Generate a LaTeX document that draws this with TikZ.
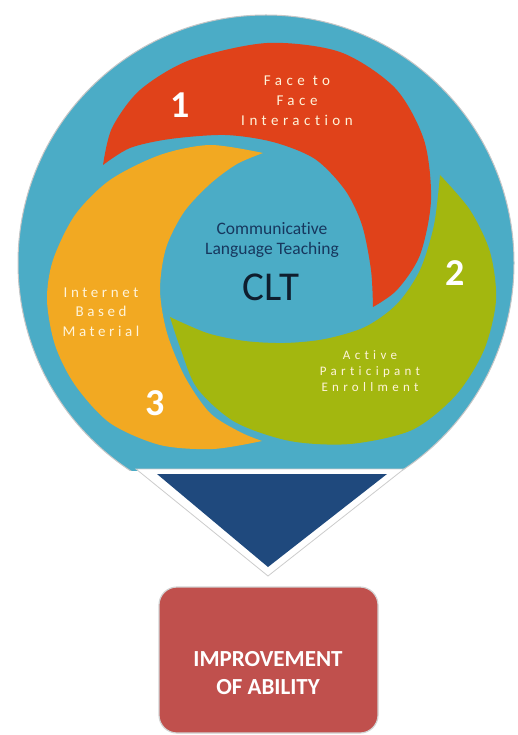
\documentclass[tikz,border=0pt]{standalone}
\usepackage{fontspec}
\setmainfont{Carlito}[Ligatures=NoCommon]
\newfontfamily\spaced{Carlito}[LetterSpace=30,Ligatures=NoCommon]
\newfontfamily\spacedb{Carlito}[LetterSpace=24,Ligatures=NoCommon]
\newfontfamily\spacedc{Carlito}[LetterSpace=33,Ligatures=NoCommon]
\definecolor{cblue}{HTML}{4BACC6}
\definecolor{cred}{HTML}{E0421A}
\definecolor{cgreen}{HTML}{A3B70F}
\definecolor{corange}{HTML}{F2A922}
\definecolor{navy}{HTML}{1F497D}
\definecolor{boxred}{HTML}{C0504D}
\definecolor{ctext}{HTML}{17375E}
\definecolor{clt}{HTML}{0F1E2E}
\definecolor{lbl}{HTML}{FFF4DA}
\tikzset{
  seglabel/.style={text=lbl, align=center, inner sep=0pt},
  digit/.style={text=white, font=\fontsize{38}{38}\selectfont\bfseries, inner sep=0pt},
  resultbox/.style={fill=boxred, draw=gray!35, line width=1.2pt, rounded corners=18pt,
    minimum width=219pt, minimum height=146pt, inner sep=0pt},
}
\begin{document}
\begin{tikzpicture}[x=1pt,y=-1pt]
\useasboundingbox (0,0) rectangle (517,735);
% big circle
\begin{scope}
\clip (0,0) rectangle (517,470);
\fill[cblue, draw=gray!45, line width=1pt] (266,263) circle (248);
\end{scope}
% triangle
\fill[white, draw=gray!40, line width=0.8pt] (136,469) -- (404,469) -- (268,576) -- cycle;
\fill[navy] (157,474) -- (387,474) -- (268,567) -- cycle;
% red crescent
\fill[cred] plot[smooth] coordinates {(103,165) (112,128) (140,90) (190,60) (267,43) (340,52) (395,88) (424,140) (431,200) (420,255) (397,290) (373,307)}
  -- plot[smooth] coordinates {(373,307) (371,270) (362,225) (345,190) (315,159) (273,142) (225,135) (170,139) (130,148) (103,165)} -- cycle;
% green crescent
\fill[cgreen] plot[smooth] coordinates {(440,175) (470,210) (490,252) (496,300) (484,350) (456,395) (412,430) (350,444) (290,441) (235,422) (197,388) (180,347) (170,317)}
  -- plot[smooth] coordinates {(170,317) (207,333) (245,341) (285,343) (325,339) (365,327) (397,304) (420,270) (434,225) (440,175)} -- cycle;
% orange crescent
\fill[corange] plot[smooth] coordinates {(263,153) (210,145) (160,155) (110,180) (75,215) (53,260) (47,300) (55,345) (75,385) (110,423) (160,445) (213,449) (262,441)}
  -- plot[smooth] coordinates {(262,441) (240,432) (210,413) (185,377) (167,333) (160,290) (166,248) (184,212) (210,184) (237,164) (263,153)} -- cycle;
% labels
\node[seglabel, font=\spaced\fontsize{15}{20}\selectfont] (face) at (297,101) {Face to\\Face\\Interaction};
\node[seglabel, font=\spacedb\fontsize{15}{19.5}\selectfont] (inet) at (101,312) {Internet\\Based\\Material};
\node[seglabel, font=\spacedc\fontsize{13}{16}\selectfont] (active) at (370,371) {Active\\Participant\\Enrollment};
\node[digit] (d1) at (180,105) {1};
\node[digit] (d2) at (455,273) {2};
\node[digit] (d3) at (155,403) {3};
\node[text=ctext, align=center, inner sep=0pt, font=\fontsize{17.5}{20}\selectfont] (comm) at (272,240) {Communicative\\Language Teaching};
\node[text=clt, inner sep=0pt, font=\fontsize{41}{41}\selectfont] (cltn) at (271,287) {CLT};
% result box
\node[resultbox] (box) at (268.5,660) {};
\node[text=white, align=center, inner sep=0pt, font=\fontsize{23}{28}\selectfont\bfseries] (imp) at (268,673) {IMPROVEMENT\\OF ABILITY};
\end{tikzpicture}
\end{document}
